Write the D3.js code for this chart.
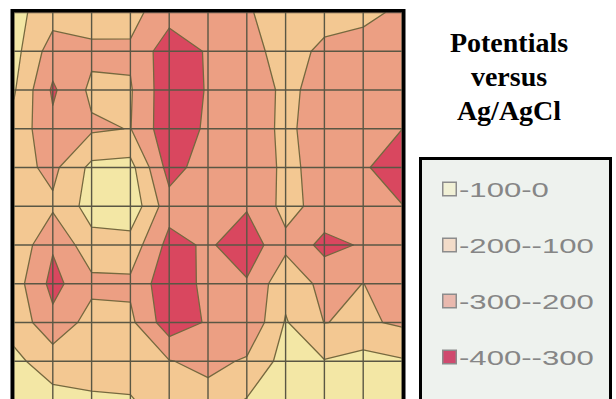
<!DOCTYPE html>
<html>
<head>
<meta charset="utf-8">
<script src="https://cdn.jsdelivr.net/npm/d3@7"></script>
<style>
  html, body { margin: 0; padding: 0; background: #fff; }
  svg { display: block; }
</style>
</head>
<body>
<div id="chart"></div>
<script>
// potentials (mV vs Ag/AgCl) read at the grid nodes, top row first, left to right
const potentials = [
  [-70, -155, -150, -168, -260, -240, -210, -154, -170, -180, -215],
  [-65, -251, -223, -215, -360, -290, -230, -167, -217, -233, -250],
  [-90, -315, -179, -191, -370, -292, -240, -186, -223, -240, -290],
  [-133, -277, -215, -197, -370, -282, -240, -184, -239, -260, -298],
  [-162, -225, -75, -66, -340, -250, -230, -191, -214, -278, -400],
  [-150, -183, -60, -31, -260, -260, -290, -170, -235, -270, -294],
  [-117, -290, -134, -140, -333, -285, -360, -224, -330, -290, -270],
  [-152, -330, -227, -220, -370, -270, -289, -130, -230, -199, -240],
  [-133, -273, -159, -178, -360, -289, -290, -92, -202, -185, -215],
  [-80, -143, -130, -125, -195, -230, -187, -60, -95, -65, -90],
  [-60, -71, -91, -96, -130, -159, -94.5, -50, -70, -60, -70]
];
const thresholds = [-300, -200, -100];
const legendLabels = ['-100-0', '-200--100', '-300--200', '-400--300'];
const titleLines = ['Potentials', 'versus', 'Ag/AgCl'];

// lowest band first, then one fill per threshold
const bandColors = ['#D9475F', '#EC9F83', '#F3C892', '#F3E7A5'];
const legendSwatch = ['#F1F1D6', '#F2DCC9', '#E9B9AE', '#CF4A6E'];

const W = 616, H = 399;
const plot = { left: 14, right: 402, top: 12.5, bottom: 400 };

const svg = d3.select('#chart')
  .append('svg')
  .attr('width', W)
  .attr('height', H);

const nx = potentials[0].length;
const ny = potentials.length;

const x = d3.scaleLinear().domain([0, nx - 1]).range([plot.left, plot.right]);
const y = d3.scaleLinear().domain([0, ny - 1]).range([plot.top, plot.bottom]);

svg.append('defs')
  .append('clipPath')
  .attr('id', 'plot-clip')
  .append('rect')
  .attr('x', plot.left)
  .attr('y', plot.top)
  .attr('width', plot.right - plot.left)
  .attr('height', plot.bottom - plot.top);

const g = svg.append('g').attr('clip-path', 'url(#plot-clip)');

// base band (-400..-300)
g.append('rect')
  .attr('x', plot.left)
  .attr('y', plot.top)
  .attr('width', plot.right - plot.left)
  .attr('height', plot.bottom - plot.top)
  .attr('fill', bandColors[0]);

// d3.contours puts grid value i at coordinate i + 0.5
const toScreen = d3.geoTransform({
  point: function (px, py) {
    this.stream.point(x(px - 0.5), y(py - 0.5));
  }
});
const path = d3.geoPath(toScreen);

const contours = d3.contours()
  .size([nx, ny])
  .thresholds(thresholds)(potentials.flat());

g.selectAll('.band')
  .data(contours)
  .enter()
  .append('path')
  .attr('class', 'band')
  .attr('d', path)
  .attr('fill', (d, i) => bandColors[i + 1])
  .attr('stroke', '#76693F')
  .attr('stroke-width', 1.3)
  .attr('stroke-linejoin', 'round');

// grid
g.selectAll('.vline')
  .data(x.ticks(nx - 1))
  .enter()
  .append('line')
  .attr('x1', d => x(d))
  .attr('x2', d => x(d))
  .attr('y1', plot.top)
  .attr('y2', plot.bottom)
  .attr('stroke', '#5A5744')
  .attr('stroke-width', 1.4);

g.selectAll('.hline')
  .data(y.ticks(ny - 1))
  .enter()
  .append('line')
  .attr('y1', d => y(d))
  .attr('y2', d => y(d))
  .attr('x1', plot.left)
  .attr('x2', plot.right)
  .attr('stroke', '#5A5744')
  .attr('stroke-width', 1.4);

// frame
svg.append('rect')
  .attr('x', plot.left - 1.75)
  .attr('y', plot.top - 1.75)
  .attr('width', plot.right - plot.left + 3.5)
  .attr('height', plot.bottom - plot.top + 6)
  .attr('fill', 'none')
  .attr('stroke', '#000')
  .attr('stroke-width', 3.5);

// title
svg.append('g')
  .selectAll('text')
  .data(titleLines)
  .enter()
  .append('text')
  .attr('x', 509)
  .attr('y', (d, i) => 52 + i * 34)
  .attr('text-anchor', 'middle')
  .attr('font-family', '"Liberation Serif", "Times New Roman", serif')
  .attr('font-weight', 'bold')
  .attr('font-size', 28)
  .attr('fill', '#000')
  .text(d => d);

// legend
const legend = svg.append('g');
legend.append('rect')
  .attr('x', 420.5)
  .attr('y', 158.5)
  .attr('width', 190)
  .attr('height', 260)
  .attr('fill', '#EEF2EE')
  .attr('stroke', '#000')
  .attr('stroke-width', 3);

const ly = d3.scaleLinear().domain([0, legendLabels.length - 1]).range([189, 357]);

const item = legend.selectAll('.item')
  .data(legendLabels)
  .enter()
  .append('g')
  .attr('class', 'item')
  .attr('transform', (d, i) => `translate(442, ${ly(i)})`);

item.append('rect')
  .attr('x', 0.75)
  .attr('y', -6.75)
  .attr('width', 13.5)
  .attr('height', 13.5)
  .attr('fill', (d, i) => legendSwatch[i])
  .attr('stroke', '#8C8C8C')
  .attr('stroke-width', 1.5);

item.append('text')
  .attr('transform', 'translate(17, 7.5) scale(1.48, 1)')
  .attr('font-family', '"Liberation Sans", Arial, sans-serif')
  .attr('font-size', 21)
  .attr('fill', '#868686')
  .text(d => d);
</script>
</body>
</html>
